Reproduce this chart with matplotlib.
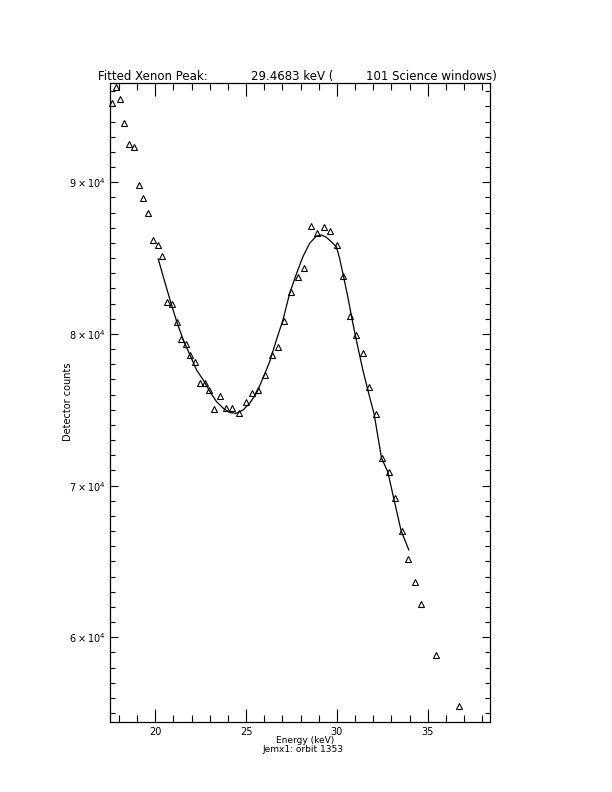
import matplotlib
matplotlib.use("Agg")
import matplotlib.pyplot as plt
from matplotlib.ticker import MultipleLocator, FixedLocator, FixedFormatter

# Measured spectrum (energy in keV, detector counts)
energy = [17.62, 17.84, 18.06, 18.30, 18.55, 18.85, 19.10, 19.34, 19.62, 19.86,
          20.13, 20.38, 20.66, 20.90, 21.18, 21.41, 21.67, 21.92, 22.20, 22.46,
          22.71, 22.97, 23.24, 23.54, 23.92, 24.25, 24.62, 24.98, 25.33, 25.68,
          26.04, 26.41, 26.76, 27.11, 27.47, 27.84, 28.19, 28.55, 28.92, 29.27,
          29.64, 29.98, 30.33, 30.70, 31.07, 31.43, 31.78, 32.14, 32.47, 32.86,
          33.21, 33.56, 33.92, 34.29, 34.62, 35.44, 36.73]
counts = [95243, 96258, 95467, 93925, 92521, 92343, 89819, 88943, 87994, 86195,
          85865, 85160, 82129, 81977, 80811, 79651, 79341, 78616, 78135, 76791,
          76791, 76310, 75058, 75914, 75104, 75143, 74814, 75499, 76112, 76310,
          77298, 78616, 79163, 80876, 82768, 83776, 84369, 87137, 86676, 87032,
          86807, 85885, 83842, 81206, 79934, 78768, 76527, 74748, 71848, 70926,
          69212, 67018, 65192, 63677, 62227, 58846, 55439]

# Fitted curve
fit_energy = [20.16, 20.44, 20.81, 21.18, 21.54, 21.91, 22.27, 22.64, 23.01, 23.37,
              23.74, 24.10, 24.47, 24.84, 25.20, 25.57, 25.93, 26.30, 26.67, 27.03,
              27.40, 27.77, 28.13, 28.50, 28.87, 29.14, 29.42, 29.69, 29.97, 30.15,
              30.33, 30.60, 30.88, 31.15, 31.43, 31.80, 32.05, 32.46, 32.80, 33.13,
              33.54, 33.96]
fit_counts = [84943, 83776, 82241, 80811, 79605, 78616, 77628, 76969, 76198, 75539,
              75104, 74814, 74774, 74992, 75433, 76092, 77081, 78175, 79605, 80923,
              82682, 83954, 85094, 85977, 86458, 86524, 86373, 86083, 85753, 84989,
              84000, 82458, 80705, 79163, 77628, 75868, 74728, 71809, 70926, 69172,
              67018, 65766]

xticks = [20, 25, 30, 35]
xticklabels = ["20", "25", "30", "35"]
yticks = [60000, 70000, 80000, 90000]
yticklabels = [r"$6\times10^{4}$", r"$7\times10^{4}$", r"$8\times10^{4}$", r"$9\times10^{4}$"]

title_left = "Fitted Xenon Peak:"
title_mid = "29.4683 keV ("
title_right = "101 Science windows)"
xlabel = "Energy (keV)"
xlabel2 = "Jemx1: orbit 1353"
ylabel = "Detector counts"

plt.rcParams['font.family'] = ['DejaVu Sans']
plt.rcParams['mathtext.fontset'] = 'dejavusans'

fig = plt.figure(figsize=(6.12, 7.92), dpi=100)
W, H = 612.0, 792.0
ax = fig.add_axes([110 / W, 1 - 721.7 / H, 380.3 / W, 639.0 / H])

ax.plot(energy, counts, linestyle='none', marker='^', markersize=5,
        markerfacecolor='none', markeredgecolor='black', markeredgewidth=0.8,
        clip_on=False, zorder=3)
ax.plot(fit_energy, fit_counts, color='black', linewidth=0.9)

ax.set_xlim(17.505, 38.45)
ax.set_ylim(54436, 96566)

ax.xaxis.set_major_locator(FixedLocator(xticks))
ax.xaxis.set_major_formatter(FixedFormatter(xticklabels))
ax.xaxis.set_minor_locator(MultipleLocator(1))
ax.yaxis.set_major_locator(FixedLocator(yticks))
ax.yaxis.set_major_formatter(FixedFormatter(yticklabels))
ax.yaxis.set_minor_locator(MultipleLocator(1000))

ax.tick_params(axis='both', which='both', direction='in', top=True, right=True,
               colors='black', width=0.8)
ax.tick_params(axis='x', which='major', length=9.5, labelsize=7, pad=3.5)
ax.tick_params(axis='x', which='minor', length=4.8)
ax.tick_params(axis='y', which='major', length=6, labelsize=7, pad=3)
ax.tick_params(axis='y', which='minor', length=3.4)
for s in ax.spines.values():
    s.set_linewidth(0.9)

fig.text(98 / W, 1 - 80 / H, title_left, fontsize=8.5, ha='left', va='baseline')
fig.text(251 / W, 1 - 80 / H, title_mid, fontsize=8.5, ha='left', va='baseline')
fig.text(366 / W, 1 - 80 / H, title_right, fontsize=8.5, ha='left', va='baseline')

fig.text(305 / W, 1 - 743 / H, xlabel, fontsize=6.5, ha='center', va='baseline')
fig.text(303 / W, 1 - 752 / H, xlabel2, fontsize=6.5, ha='center', va='baseline')
fig.text(68 / W, 1 - 402 / H, ylabel, fontsize=7, ha='center', va='center',
         rotation=90)

fig.savefig("out.png", dpi=100)
